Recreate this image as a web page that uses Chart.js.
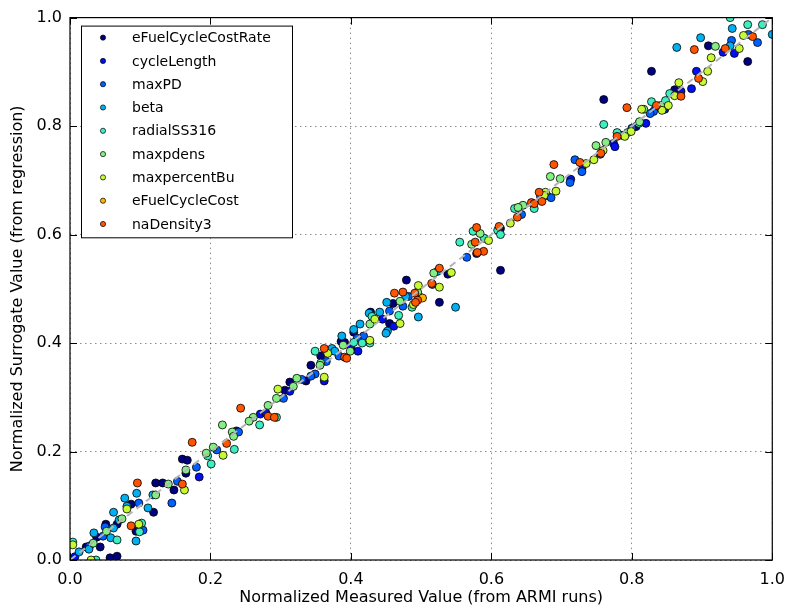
<!DOCTYPE html>
<html>
<head>
<meta charset="utf-8">
<script src="https://cdn.jsdelivr.net/npm/chart.js@4.4.1/dist/chart.umd.min.js"></script>
<style>
  html, body { margin: 0; padding: 0; background: #fff; }
  #wrap { width: 795px; height: 612px; }
</style>
</head>
<body>
<div id="wrap"><canvas id="surrogate"></canvas></div>
<script>
// normalized measured value vs surrogate value, one array per output parameter
const eFuelCycleCostRate = [
  [0.160,0.186],[0.165,0.160],[0.167,0.184],[0.122,0.142],[0.132,0.142],[0.148,0.129],
  [0.087,0.103],[0.119,0.088],[0.067,0.066],[0.094,0.053],[0.051,0.066],[0.038,0.042],
  [0.023,0.024],[0.043,0.024],[0.057,0.004],[0.067,0.007],[0.313,0.328],[0.306,0.313],
  [0.460,0.473],[0.428,0.457],[0.455,0.436],[0.404,0.420],[0.386,0.403],[0.391,0.401],
  [0.357,0.376],[0.343,0.359],[0.336,0.330],[0.613,0.611],[0.579,0.565],[0.538,0.527],
  [0.613,0.534],[0.479,0.516],[0.499,0.484],[0.526,0.475],[0.760,0.849],[0.679,0.672],
  [0.909,0.948],[0.828,0.901],[0.861,0.867],[0.806,0.799],[0.965,0.919]
];
const cycleLength = [
  [0.007,0.006],[0.184,0.153],[0.271,0.269],[0.279,0.271],[0.237,0.238],[0.313,0.311],
  [0.445,0.444],[0.461,0.431],[0.400,0.392],[0.410,0.385],[0.362,0.330],[0.774,0.768],
  [0.776,0.762],[0.729,0.722],[0.713,0.702],[0.892,0.901],[0.885,0.869],[0.870,0.864],
  [0.847,0.831],[0.820,0.805],[0.786,0.783],[0.930,0.936],[0.946,0.934]
];
const maxPD = [
  [0.153,0.145],[0.098,0.105],[0.145,0.105],[0.047,0.044],[0.028,0.026],[0.050,0.061],
  [0.104,0.055],[0.304,0.298],[0.209,0.203],[0.180,0.171],[0.240,0.236],[0.455,0.459],
  [0.418,0.413],[0.409,0.409],[0.383,0.376],[0.365,0.366],[0.349,0.343],[0.343,0.339],
  [0.330,0.333],[0.565,0.558],[0.516,0.508],[0.482,0.486],[0.474,0.468],[0.755,0.748],
  [0.719,0.738],[0.729,0.716],[0.712,0.696],[0.670,0.670],[0.685,0.668],[0.643,0.637],
  [0.834,0.834],[0.831,0.827],[0.826,0.823],[0.800,0.796],[0.966,0.969],[0.979,0.954],
  [0.942,0.958]
];
const beta = [
  [0.095,0.123],[0.118,0.120],[0.078,0.114],[0.081,0.099],[0.111,0.096],[0.062,0.088],
  [0.070,0.074],[0.062,0.059],[0.094,0.035],[0.034,0.050],[0.058,0.041],[0.027,0.020],
  [0.013,0.015],[0.451,0.475],[0.441,0.457],[0.426,0.455],[0.452,0.422],[0.450,0.418],
  [0.413,0.435],[0.404,0.425],[0.387,0.413],[0.373,0.390],[0.377,0.385],[0.478,0.486],
  [0.523,0.532],[0.549,0.466],[0.496,0.448],[0.943,0.980],[0.898,0.963],[0.864,0.945],
  [0.940,0.948],[1.000,0.969]
];
const radialSS316 = [
  [0.004,0.033],[0.102,0.068],[0.099,0.052],[0.067,0.037],[0.037,0.000],[0.294,0.263],
  [0.270,0.249],[0.234,0.204],[0.196,0.192],[0.201,0.177],[0.468,0.451],[0.430,0.449],
  [0.427,0.400],[0.416,0.400],[0.404,0.401],[0.349,0.385],[0.633,0.648],[0.609,0.608],
  [0.613,0.600],[0.574,0.606],[0.590,0.593],[0.555,0.586],[0.487,0.466],[0.760,0.803],
  [0.779,0.788],[0.661,0.648],[0.854,0.860],[0.848,0.847],[0.828,0.845],[0.810,0.805],
  [0.794,0.788],[0.940,1.000],[0.965,0.987],[0.986,0.987]
];
const maxpdens = [
  [0.165,0.166],[0.140,0.140],[0.122,0.120],[0.074,0.076],[0.052,0.053],[0.033,0.031],
  [0.318,0.320],[0.294,0.298],[0.282,0.285],[0.261,0.263],[0.255,0.256],[0.217,0.249],
  [0.231,0.236],[0.233,0.228],[0.204,0.208],[0.194,0.197],[0.470,0.477],[0.427,0.435],
  [0.389,0.396],[0.399,0.385],[0.357,0.363],[0.356,0.359],[0.323,0.335],[0.584,0.602],
  [0.572,0.582],[0.518,0.529],[0.495,0.494],[0.763,0.770],[0.749,0.764],[0.684,0.707],
  [0.698,0.703],[0.645,0.654],[0.638,0.650],[0.919,0.947],[0.841,0.838],[0.817,0.831],
  [0.811,0.808]
];
const maxpercentBu = [
  [0.163,0.129],[0.081,0.094],[0.098,0.066],[0.004,0.028],[0.030,0.000],[0.296,0.315],
  [0.218,0.193],[0.434,0.444],[0.470,0.436],[0.427,0.405],[0.367,0.381],[0.362,0.337],
  [0.627,0.621],[0.596,0.589],[0.543,0.530],[0.496,0.506],[0.526,0.503],[0.489,0.471],
  [0.759,0.755],[0.746,0.738],[0.735,0.731],[0.692,0.680],[0.677,0.678],[0.675,0.672],
  [0.913,0.926],[0.908,0.901],[0.901,0.882],[0.867,0.880],[0.861,0.856],[0.852,0.838],
  [0.843,0.829],[0.814,0.831],[0.799,0.790],[0.790,0.781],[0.959,0.967],[0.953,0.943]
];
const eFuelCycleCost = [
  [0.502,0.483]
];
const naDensity3 = [
  [0.096,0.142],[0.160,0.140],[0.087,0.063],[0.243,0.280],[0.282,0.265],[0.291,0.263],
  [0.223,0.215],[0.174,0.217],[0.462,0.492],[0.474,0.494],[0.362,0.390],[0.391,0.374],
  [0.394,0.372],[0.611,0.615],[0.579,0.613],[0.577,0.586],[0.589,0.569],[0.580,0.567],
  [0.526,0.538],[0.515,0.510],[0.491,0.492],[0.495,0.479],[0.492,0.475],[0.779,0.781],
  [0.756,0.750],[0.726,0.733],[0.689,0.729],[0.668,0.678],[0.672,0.661],[0.657,0.659],
  [0.661,0.657],[0.637,0.632],[0.889,0.941],[0.895,0.888],[0.870,0.855],[0.835,0.838],
  [0.793,0.834],[0.933,0.943],[0.972,0.965]
];

const seriesNames = ['eFuelCycleCostRate', 'cycleLength', 'maxPD', 'beta', 'radialSS316',
                     'maxpdens', 'maxpercentBu', 'eFuelCycleCost', 'naDensity3'];
const seriesData = [eFuelCycleCostRate, cycleLength, maxPD, beta, radialSS316,
                    maxpdens, maxpercentBu, eFuelCycleCost, naDensity3];
const seriesColors = ['#00007f', '#0010f0', '#0060ff', '#00b0f0', '#3ceec0',
                      '#84f084', '#c8fa34', '#ffb400', '#ff5400'];
const tickValues = [0, 0.2, 0.4, 0.6, 0.8, 1.0];
const parityLine = [[0, 0], [1, 1]];

const FONT = 'DejaVu Sans';

const datasets = seriesNames.map((name, i) => ({
  type: 'scatter',
  label: name,
  data: seriesData[i].map(p => ({ x: p[0], y: p[1] })),
  backgroundColor: seriesColors[i],
  borderColor: '#000',
  borderWidth: 0.8,
  pointRadius: 4,
  order: seriesNames.length - i   // later series end up on top
}));

datasets.push({
  type: 'line',
  label: '_parity',
  data: parityLine.map(p => ({ x: p[0], y: p[1] })),
  borderColor: '#b4b4b4',
  borderWidth: 2,
  borderDash: [7, 5],
  pointRadius: 0,
  order: 0
});

// axes frame plus matplotlib-style inward ticks on all four sides
const frameTicks = {
  id: 'frameTicks',
  afterDatasetsDraw(chart) {
    const { ctx, chartArea: a, scales } = chart;
    ctx.save();
    ctx.strokeStyle = '#000';
    ctx.lineWidth = 1;
    ctx.beginPath();
    tickValues.forEach(v => {
      const x = Math.round(scales.x.getPixelForValue(v)) + 0.5;
      const y = Math.round(scales.y.getPixelForValue(v)) + 0.5;
      ctx.moveTo(x, a.bottom); ctx.lineTo(x, a.bottom - 7);
      ctx.moveTo(x, a.top); ctx.lineTo(x, a.top + 7);
      ctx.moveTo(a.left, y); ctx.lineTo(a.left + 7, y);
      ctx.moveTo(a.right, y); ctx.lineTo(a.right - 7, y);
    });
    ctx.stroke();
    ctx.lineWidth = 1.2;
    ctx.strokeRect(a.left, a.top, a.right - a.left, a.bottom - a.top);
    ctx.restore();
  }
};

// boxed legend in the upper-left corner of the plot
const boxLegend = {
  id: 'boxLegend',
  afterDraw(chart) {
    const { ctx, chartArea: a } = chart;
    const items = chart.data.datasets.filter(d => d.type === 'scatter');
    const left = a.left + 11, top = a.top + 8;
    const rowH = 23.3, w = 211, h = rowH * items.length + 2;
    ctx.save();
    ctx.fillStyle = '#fff';
    ctx.fillRect(left, top, w, h);
    ctx.strokeStyle = '#000';
    ctx.lineWidth = 1;
    ctx.strokeRect(left + 0.5, top + 0.5, w, h);
    ctx.font = '14px "' + FONT + '"';
    ctx.textBaseline = 'middle';
    items.forEach((d, i) => {
      const cy = top + 12 + i * rowH;
      ctx.beginPath();
      ctx.arc(left + 22, cy, 2.6, 0, Math.PI * 2);
      ctx.fillStyle = d.backgroundColor;
      ctx.fill();
      ctx.lineWidth = 0.7;
      ctx.strokeStyle = '#000';
      ctx.stroke();
      ctx.fillStyle = '#000';
      ctx.fillText(d.label, left + 51, cy + 1);
    });
    ctx.restore();
  }
};

const gridStyle = {
  color: 'rgba(0,0,0,0.45)',
  lineWidth: 1,
  drawTicks: false
};

new Chart(document.getElementById('surrogate'), {
  data: { datasets },
  options: {
    responsive: true,
    maintainAspectRatio: false,
    animation: false,
    layout: { padding: { left: 0, right: 20, top: 17, bottom: 0 } },
    plugins: { legend: { display: false }, tooltip: { enabled: false } },
    scales: {
      x: {
        type: 'linear',
        min: 0, max: 1,
        afterBuildTicks: s => { s.ticks = tickValues.map(v => ({ value: v })); },
        afterFit: s => { s.height = 52; },
        grid: gridStyle,
        border: { display: false, dash: [1.5, 3.5] },
        ticks: {
          padding: 10,
          color: '#000',
          font: { family: FONT, size: 16 },
          callback: v => v.toFixed(1)
        },
        title: {
          display: true,
          text: 'Normalized Measured Value (from ARMI runs)',
          color: '#000',
          font: { family: FONT, size: 16 },
          padding: { top: 0, bottom: 5 }
        }
      },
      y: {
        type: 'linear',
        min: 0, max: 1,
        afterBuildTicks: s => { s.ticks = tickValues.map(v => ({ value: v })); },
        afterFit: s => { s.width = 70; },
        grid: gridStyle,
        border: { display: false, dash: [1.5, 3.5] },
        ticks: {
          padding: 8,
          color: '#000',
          font: { family: FONT, size: 16 },
          callback: v => v.toFixed(1)
        },
        title: {
          display: true,
          text: 'Normalized Surrogate Value (from regression)',
          color: '#000',
          font: { family: FONT, size: 16 },
          padding: { top: 8, bottom: 0 }
        }
      }
    }
  },
  plugins: [frameTicks, boxLegend]
});
</script>
</body>
</html>
